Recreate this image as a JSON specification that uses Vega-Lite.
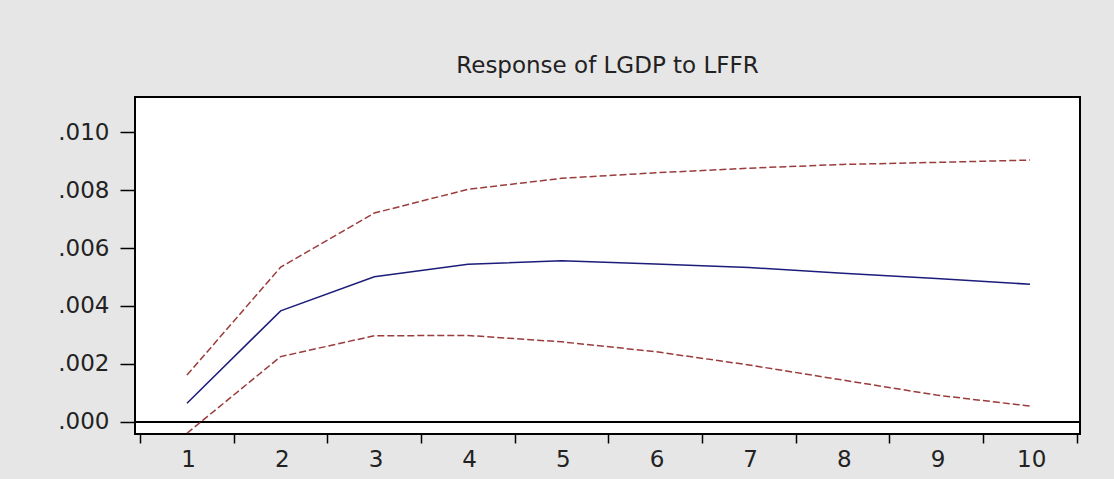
{
  "$schema": "https://vega.github.io/schema/vega-lite/v6.json",
  "autosize": {"type": "none"},
  "padding": {"left": 135, "top": 97, "right": 34, "bottom": 45},
  "width": 945,
  "height": 337,
  "background": "#e6e6e6",
  "title": {
    "text": "Response of LGDP to LFFR",
    "font": "DejaVu Sans",
    "fontSize": 23,
    "fontWeight": "normal",
    "color": "#222222",
    "anchor": "middle",
    "frame": "group",
    "baseline": "alphabetic",
    "offset": 1
  },
  "config": {
    "view": {"fill": "white", "stroke": "black", "strokeWidth": 2},
    "axis": {"grid": false, "domain": false, "labelFont": "DejaVu Sans", "labelFontSize": 23, "labelColor": "#222222", "tickColor": "black", "tickWidth": 1.5, "title": null}
  },
  "data": {
    "values": [
      {"period": 1, "response": 0.00064, "upper": 0.00161, "lower": -0.0004},
      {"period": 2, "response": 0.00383, "upper": 0.00534, "lower": 0.00225},
      {"period": 3, "response": 0.00501, "upper": 0.00721, "lower": 0.00297},
      {"period": 4, "response": 0.00544, "upper": 0.00803, "lower": 0.00298},
      {"period": 5, "response": 0.00556, "upper": 0.00841, "lower": 0.00276},
      {"period": 6, "response": 0.00545, "upper": 0.00860, "lower": 0.00242},
      {"period": 7, "response": 0.00533, "upper": 0.00876, "lower": 0.00196},
      {"period": 8, "response": 0.00513, "upper": 0.00889, "lower": 0.00144},
      {"period": 9, "response": 0.00495, "upper": 0.00896, "lower": 0.00092},
      {"period": 10, "response": 0.00475, "upper": 0.00904, "lower": 0.00054}
    ]
  },
  "encoding": {
    "x": {
      "field": "period",
      "type": "quantitative",
      "scale": {"domain": [0.445, 10.534], "nice": false, "zero": false},
      "axis": {
        "values": [0.5, 1.5, 2.5, 3.5, 4.5, 5.5, 6.5, 7.5, 8.5, 9.5, 10.5],
        "tickSize": 9,
        "labelExpr": "datum.value < 10 ? format(datum.value + 0.5, 'd') : ''",
        "labelOffset": 48,
        "labelPadding": 5,
        "labelFlush": false,
        "labelOverlap": false
      }
    }
  },
  "layer": [
    {
      "mark": {"type": "rule", "color": "black", "strokeWidth": 1.5},
      "encoding": {"y": {"datum": 0}, "x": null}
    },
    {
      "mark": {"type": "line", "color": "#9b3b3b", "strokeWidth": 1.5, "strokeDash": [7, 3], "clip": true},
      "encoding": {
        "y": {
          "field": "upper",
          "type": "quantitative",
          "scale": {"domain": [-0.000425, 0.01122], "nice": false, "zero": false},
          "axis": {
            "values": [0, 0.002, 0.004, 0.006, 0.008, 0.01],
            "tickSize": 15,
            "labelPadding": 11,
            "labelExpr": "replace(format(datum.value, '.3f'), '0.', '.')"
          }
        }
      }
    },
    {
      "mark": {"type": "line", "color": "#9b3b3b", "strokeWidth": 1.5, "strokeDash": [7, 3], "clip": true},
      "encoding": {"y": {"field": "lower", "type": "quantitative"}}
    },
    {
      "mark": {"type": "line", "color": "#1c1c7a", "strokeWidth": 1.5, "clip": true},
      "encoding": {"y": {"field": "response", "type": "quantitative"}}
    }
  ]
}
